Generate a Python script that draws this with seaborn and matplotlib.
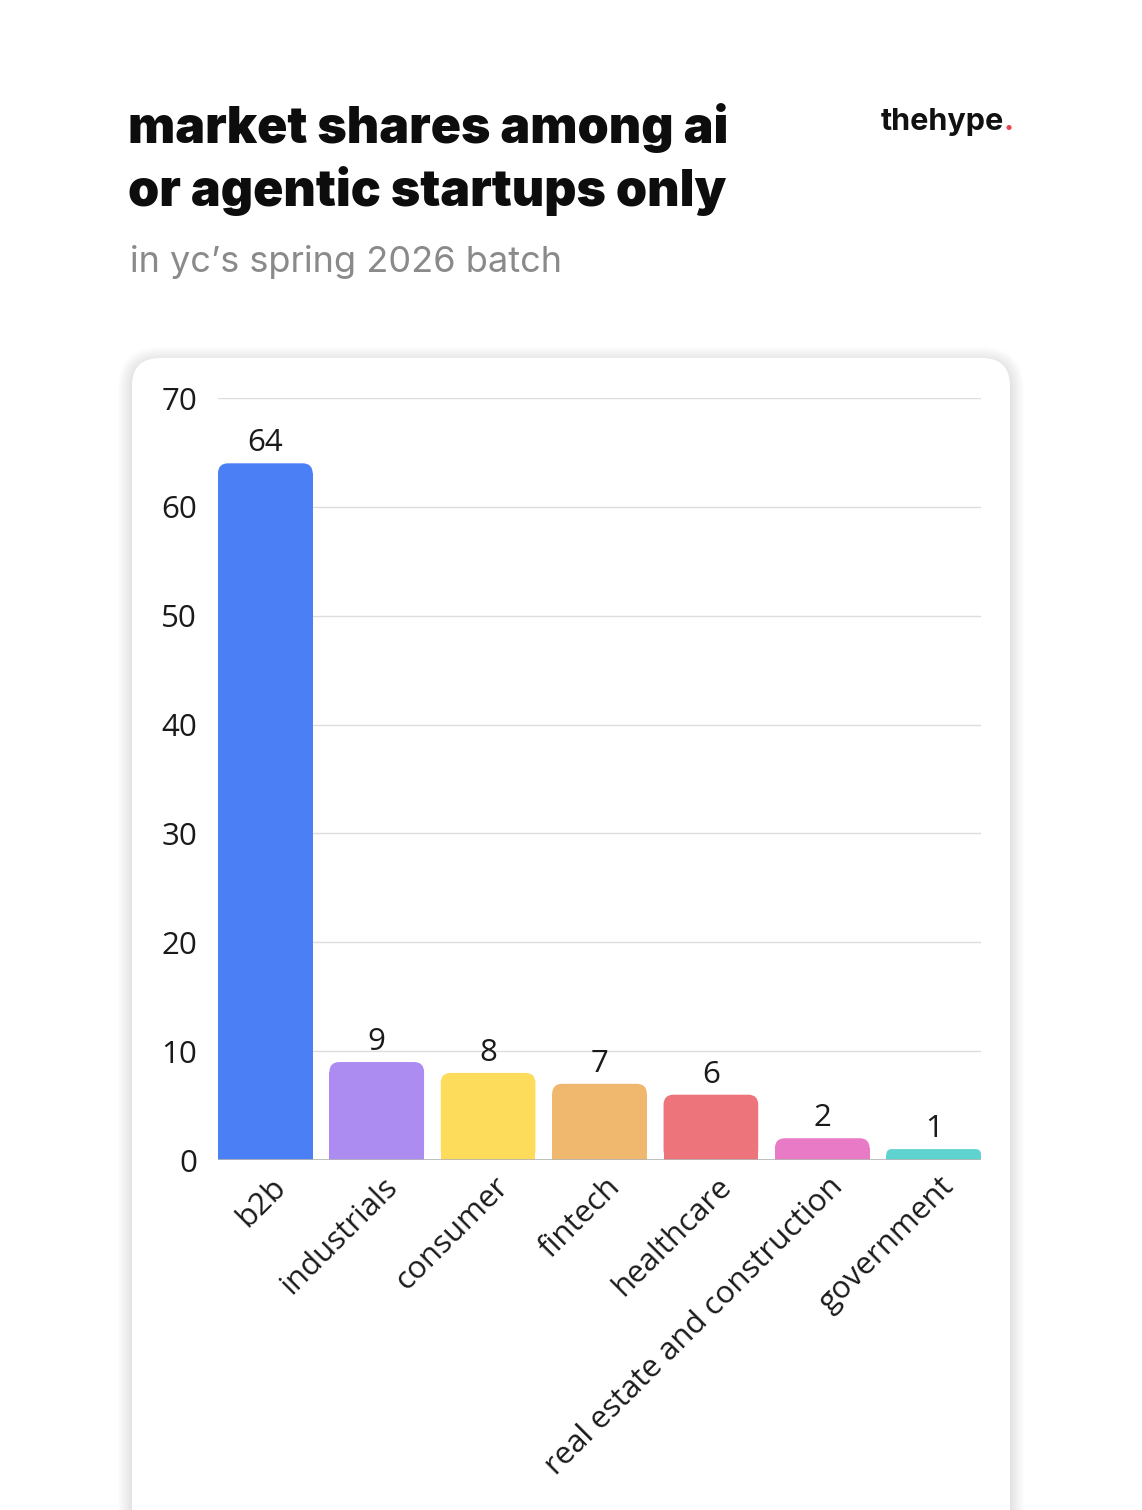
import numpy as np
import pandas as pd
import matplotlib.pyplot as plt
import matplotlib.transforms as mtransforms
from matplotlib.patches import FancyBboxPatch, Rectangle
import seaborn as sns

sns.set_theme(style="white")
plt.rcParams['font.family'] = ['Open Sans', 'DejaVu Sans']

# данные
categories = ["b2b", "industrials", "consumer", "fintech", "healthcare",
              "real estate and construction", "government"]
values = [64, 9, 8, 7, 6, 2, 1]
colors = ["#4a7ff5", "#ad8cf2", "#fddc5c", "#f0b86e", "#ec747a", "#e97bc6", "#5ed3cf"]
y_ticks = [0, 10, 20, 30, 40, 50, 60, 70]

title_lines = ["market shares among ai", "or agentic startups only"]
subtitle = "in yc\u2019s spring 2026 batch"

W, H = 1142, 1510
fig = plt.figure(figsize=(W / 100, H / 100), dpi=100)
fig.patch.set_facecolor("white")

# фоновая ось в пикселях
bg = fig.add_axes([0, 0, 1, 1], zorder=0)
bg.set_xlim(0, W)
bg.set_ylim(H, 0)
bg.axis("off")

card_x0, card_x1, card_y0, card_y1 = 132, 1010, 358, 1560
for k in range(14, 0, -1):
    bg.add_patch(FancyBboxPatch((card_x0 - k, card_y0 - k + 3), card_x1 - card_x0 + 2 * k,
                                card_y1 - card_y0 + 2 * k,
                                boxstyle=f"round,pad=0,rounding_size={28 + k}",
                                fc="black", ec="none", alpha=0.008))
bg.add_patch(FancyBboxPatch((card_x0, card_y0), card_x1 - card_x0, card_y1 - card_y0,
                            boxstyle="round,pad=0,rounding_size=28", fc="white", ec="none"))

bg.text(128, 143, title_lines[0], fontsize=36, fontweight="black", family=["Inter", "DejaVu Sans"],
        color="#0d0d0d", va="baseline", ha="left")
bg.text(128, 206, title_lines[1], fontsize=36, fontweight="black", family=["Inter", "DejaVu Sans"],
        color="#0d0d0d", va="baseline", ha="left")
bg.text(130, 272, subtitle, fontsize=26, family=["Inter", "DejaVu Sans"],
        color="#8a8a8a", va="baseline", ha="left")
bg.text(1004, 130, "thehype", fontsize=22, fontweight="bold", family=["Inter", "DejaVu Sans"],
        color="#111111", va="baseline", ha="right")
bg.text(1004, 130, ".", fontsize=22, fontweight="bold", family=["Inter", "DejaVu Sans"],
        color="#e8454a", va="baseline", ha="left")

# ось графика
ax = fig.add_axes([218 / W, 1 - 1160 / H, (981 - 218) / W, (1160 - 398) / H], zorder=2)
ax.patch.set_alpha(0)

df = pd.DataFrame({"category": categories, "value": values})
sns.barplot(data=df, x="category", y="value", hue="category", palette=colors,
            legend=False, width=0.85, saturation=1, ax=ax, zorder=3)

ax.set_xlim(-0.425, len(categories) - 0.575)
ax.set_ylim(0, 70)
ax.set_yticks(y_ticks)
ax.set_xlabel("")
ax.set_ylabel("")
for s in ax.spines.values():
    s.set_visible(False)
ax.yaxis.grid(True, color="#dddddd", lw=1)
ax.set_axisbelow(True)
ax.axhline(0, color="#b5b5b5", lw=1.2, zorder=4)
ax.tick_params(axis="y", length=0, pad=15, labelsize=22.5, labelcolor="#1a1a1a")
ax.tick_params(axis="x", length=0, pad=16, labelsize=22.5, labelcolor="#1a1a1a")

# скругляем верх столбиков
fig.canvas.draw()
px_x = (ax.get_xlim()[1] - ax.get_xlim()[0]) / ax.bbox.width
px_y = (ax.get_ylim()[1] - ax.get_ylim()[0]) / ax.bbox.height
for p in list(ax.patches):
    x, w, h, c = p.get_x(), p.get_width(), p.get_height(), p.get_facecolor()
    p.remove()
    r_px = min(10, h / px_y / 2)
    ax.add_patch(FancyBboxPatch((x, 0), w, h, boxstyle=f"round,pad=0,rounding_size={r_px * px_x}",
                                mutation_aspect=px_y / px_x, fc=c, ec="none", zorder=3))
    ax.add_patch(Rectangle((x, 0), w, h - r_px * px_y, fc=c, ec="none", zorder=3))
    ax.text(x + w / 2, h + 5 * px_y, str(int(h)), ha="center", va="bottom",
            fontsize=22.5, color="#1a1a1a", zorder=5)

offset = mtransforms.ScaledTranslation(0.16, 0, fig.dpi_scale_trans)
for lab in ax.get_xticklabels():
    lab.set_rotation(45)
    lab.set_ha("right")
    lab.set_va("center")
    lab.set_rotation_mode("anchor")
    lab.set_transform(lab.get_transform() + offset)

fig.savefig("out.png", dpi=100, facecolor="white")
